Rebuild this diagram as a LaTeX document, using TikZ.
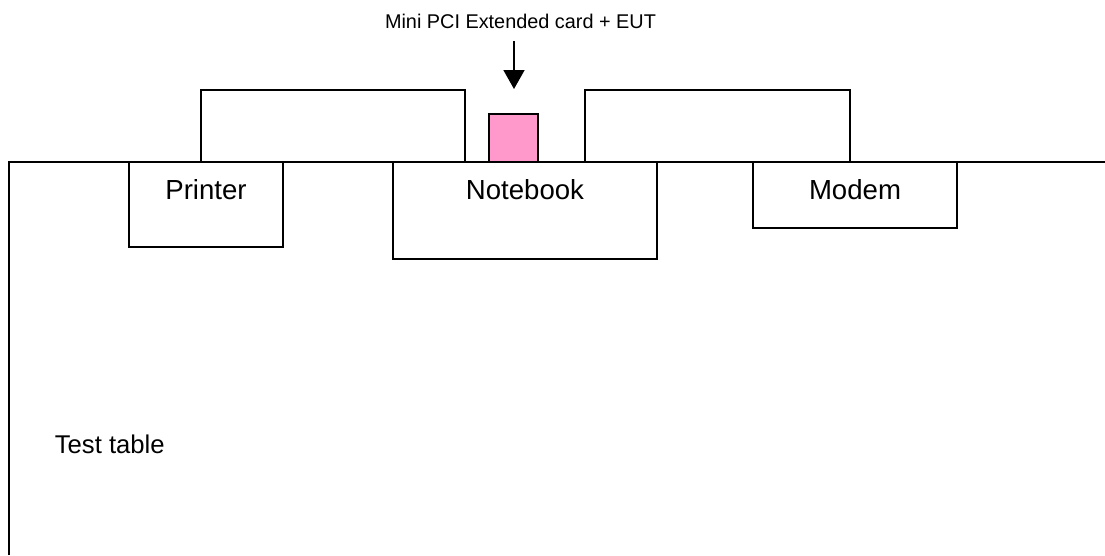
\documentclass[tikz,border=0pt]{standalone}
\usepackage{fontspec}
\setmainfont{Liberation Sans}
\usepackage{xcolor}
\usepackage{tikz}
\usetikzlibrary{positioning,arrows.meta}
\definecolor{cardpink}{HTML}{FF99CC}

\begin{document}
\begin{tikzpicture}[line width=1pt,
  devbox/.style={draw=black, fill=white, line width=1pt, inner sep=0pt},
  devname/.style={font=\fontsize{15.7}{18}\selectfont, anchor=base, inner sep=0pt},
  cardbox/.style={draw=black, fill=cardpink, line width=1pt, inner sep=0pt, minimum width=0.98cm, minimum height=0.96cm},
]
\useasboundingbox (0,0) rectangle (22.1,11.1);
% Table edge, running off to the right and bottom
\coordinate (tbl low) at (0.18,0);
\coordinate (tbl corner) at (0.18,7.86);
\coordinate (tbl right) at (22.1,7.86);
\draw (tbl low) -- (tbl corner) -- (tbl right);
\node[font=\fontsize{14.6}{17}\selectfont, anchor=base west, inner sep=0pt] (tbllbl) at (1.08,2.04) {Test table};

% Upper boxes behind the notebook
\node[devbox, minimum width=5.28cm, minimum height=1.44cm] (backl) at (6.66,8.58) {};
\node[devbox, minimum width=5.30cm, minimum height=1.44cm] (backr) at (14.35,8.58) {};

% Devices on the table
\node[devbox, minimum width=3.08cm, minimum height=1.70cm,
  label={[devname, yshift=-0.76cm]north:Printer}] (printer) at (4.12,7.01) {};
\node[devbox, minimum width=5.28cm, minimum height=1.94cm,
  label={[devname, yshift=-0.76cm]north:Notebook}] (notebook) at (10.50,6.89) {};
\node[devbox, minimum width=4.08cm, minimum height=1.32cm,
  label={[devname, yshift=-0.76cm]north:Modem}] (modem) at (17.10,7.20) {};

% Card plugged into the notebook
\node[cardbox] (card) at (10.27,8.34) {};
\node[font=\fontsize{11.3}{14}\selectfont, anchor=base] (cardlbl) at (10.41,10.54) {Mini PCI Extended card + EUT};
\coordinate (cardtip) at (10.28,9.32);
\draw[-{Triangle[length=0.38cm,width=0.42cm]}, shorten <=0.13cm] (cardlbl.south -| cardtip) -- (cardtip);
\end{tikzpicture}
\end{document}
